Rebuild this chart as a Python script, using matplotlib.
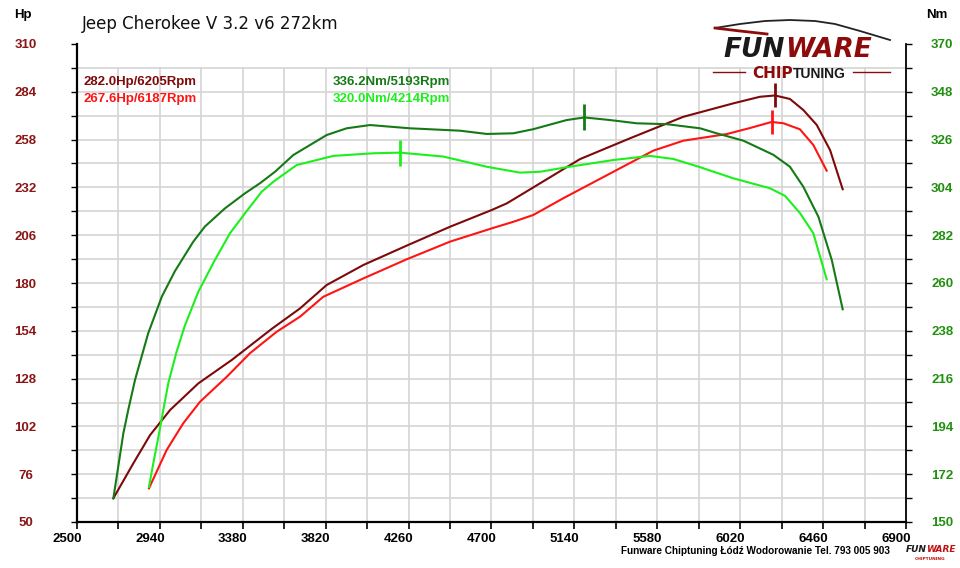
import matplotlib
matplotlib.use("Agg")
import matplotlib.pyplot as plt
from matplotlib.transforms import ScaledTranslation
import numpy as np

# ---------------- data ----------------
title = "Jeep Cherokee V 3.2 v6 272km"

hp_tuned_rpm = [2693, 2799, 2888, 2994, 3144, 3321, 3533, 3684, 3825, 4020, 4258,
                4480, 4701, 4781, 4922, 5170, 5435, 5718, 5983, 6125, 6205, 6284, 6355,
                6426, 6497, 6564]
hp_tuned = [62.9, 81.9, 97.3, 110.9, 125.4, 138.1, 155.0, 166.2, 178.9, 189.8, 200.7,
            210.6, 219.7, 223.3, 232.0, 247.4, 258.7, 270.4, 277.7, 281.3, 282.0, 280.1, 274.1,
            266.0, 252.3, 231.0]

hp_stock_rpm = [2882, 2976, 3064, 3153, 3295, 3418, 3560, 3684, 3807, 4020, 4250, 4480,
                4701, 4816, 4922, 5081, 5382, 5559, 5718, 5948, 6072, 6187, 6249, 6337,
                6408, 6479]
hp_stock = [68.3, 89.2, 103.7, 115.4, 129.0, 141.8, 153.5, 161.7, 172.5, 182.5, 192.9, 202.5,
            209.7, 213.3, 217.0, 226.1, 242.4, 252.0, 257.4, 261.0, 264.3, 267.6, 266.9, 263.6,
            255.1, 241.1]

nm_tuned_rpm = [2693, 2746, 2772, 2808, 2878, 2950, 3020, 3117, 3179, 3286, 3392, 3471,
                3551, 3648, 3825, 3931, 4055, 4267, 4533, 4675, 4816, 4922, 5099, 5193,
                5329, 5471, 5630, 5807, 5895, 6037, 6196, 6284, 6355, 6435, 6506, 6564]
nm_tuned = [160.9, 190.8, 201.6, 215.4, 236.9, 253.7, 265.5, 279.0, 286.0, 294.4, 301.3, 305.9,
            311.2, 318.9, 328.1, 331.2, 332.7, 331.2, 330.1, 328.6, 328.9, 330.8, 335.0, 336.2,
            335.0, 333.5, 333.1, 331.2, 328.9, 325.5, 319.0, 313.5, 304.3, 290.5, 270.6, 247.9]

nm_stock_rpm = [2882, 2905, 2935, 2958, 2985, 3029, 3073, 3144, 3232, 3312, 3392, 3480,
                3542, 3666, 3860, 4073, 4214, 4444, 4675, 4851, 4958, 5099, 5347, 5541,
                5665, 5807, 5983, 6178, 6258, 6338, 6408, 6479]
nm_stock = [166.2, 177.0, 190.5, 201.6, 214.0, 228.5, 240.5, 256.0, 270.6, 282.9, 292.1, 302.0,
            306.6, 314.3, 318.5, 319.7, 320.0, 318.2, 313.5, 310.8, 311.2, 313.3, 316.6, 318.5,
            317.1, 313.3, 308.2, 303.6, 300.1, 292.1, 282.9, 261.7]

peak_hp_tuned = (6205, 282.0)
peak_hp_stock = (6187, 267.6)
peak_nm_tuned = (5193, 336.2)
peak_nm_stock = (4214, 320.0)

x_ticks = [2500, 2940, 3380, 3820, 4260, 4700, 5140, 5580, 6020, 6460, 6900]
hp_ticks = [50, 76, 102, 128, 154, 180, 206, 232, 258, 284, 310]
nm_ticks = [150, 172, 194, 216, 238, 260, 282, 304, 326, 348, 370]

# ---------------- style ----------------
C_HP_T = "#7d0a0a"
C_HP_S = "#ff1414"
C_NM_T = "#157a15"
C_NM_S = "#1cf01c"
C_LBL_L = "#8b1515"
C_LBL_R = "#21900f"
GRID = "#d4d4d4"

fig = plt.figure(figsize=(9.6, 5.68), dpi=100)
fig.patch.set_facecolor("white")
L, R, B, T = 77 / 960, 906 / 960, 1 - 522 / 568, 1 - 44 / 568
ax = fig.add_axes([L, B, R - L, T - B])
ax2 = ax.twinx()

ax.set_xlim(2500, 6900)
ax.set_ylim(50, 310)
ax2.set_ylim(150, 370)

# grid (drawn manually: stops at 297 Hp)
for xv in np.arange(2720, 6900, 220):
    ax.plot([xv, xv], [50, 297], color=GRID, lw=1.2, zorder=0.5)
for yv in np.arange(63, 300, 13):
    ax.plot([2500, 6900], [yv, yv], color=GRID, lw=1.2, zorder=0.5)

# curves
ax.plot(hp_tuned_rpm, hp_tuned, color=C_HP_T, lw=1.5, zorder=3)
ax.plot(hp_stock_rpm, hp_stock, color=C_HP_S, lw=1.5, zorder=3)
ax2.plot(nm_tuned_rpm, nm_tuned, color=C_NM_T, lw=1.5, zorder=3)
ax2.plot(nm_stock_rpm, nm_stock, color=C_NM_S, lw=1.5, zorder=3)

# peak markers
ax.plot([peak_hp_tuned[0]], [peak_hp_tuned[1]], marker="|", ms=17, mew=2, color=C_HP_T)
ax.plot([peak_hp_stock[0]], [peak_hp_stock[1]], marker="|", ms=17, mew=2, color=C_HP_S)
ax2.plot([peak_nm_tuned[0]], [peak_nm_tuned[1]], marker="|", ms=19, mew=2, color=C_NM_T)
ax2.plot([peak_nm_stock[0]], [peak_nm_stock[1]], marker="|", ms=19, mew=2, color=C_NM_S)

# spines
for a in (ax, ax2):
    a.spines["top"].set_visible(False)
ax.spines["left"].set_linewidth(1.6)
ax.spines["bottom"].set_linewidth(1.6)
ax2.spines["right"].set_linewidth(1.3)
ax2.spines["left"].set_visible(False)
ax2.spines["bottom"].set_visible(False)
ax.spines["right"].set_visible(False)

# ticks
tfont = dict(family="Liberation Sans", weight="bold", size=9.5)
ax.set_xticks(x_ticks)
ax.set_xticks(np.arange(2720, 6900, 440), minor=True)
ax.set_xticklabels([str(v) for v in x_ticks], fontdict=tfont)
ax.tick_params(axis="x", which="both", direction="out", length=5, width=1.2, pad=3)
off = ScaledTranslation(-10 / 100, 0, fig.dpi_scale_trans)
for lbl in ax.get_xticklabels():
    lbl.set_transform(lbl.get_transform() + off)

ax.set_yticks(hp_ticks)
ax.set_yticks(np.arange(63, 310, 26), minor=True)
ax.set_yticklabels([str(v) for v in hp_ticks], fontdict=tfont, color=C_LBL_L)
ax.tick_params(axis="y", which="both", direction="out", length=4, width=1.0, pad=33)
for lbl in ax.get_yticklabels():
    lbl.set_horizontalalignment("center")

ax2.set_yticks(nm_ticks)
ax2.set_yticks(np.arange(161, 370, 22), minor=True)
ax2.set_yticklabels([str(v) for v in nm_ticks], fontdict=tfont, color=C_LBL_R)
ax2.tick_params(axis="y", which="both", direction="out", length=4, width=1.0, pad=22)
for lbl in ax2.get_yticklabels():
    lbl.set_horizontalalignment("center")

# axis unit labels
fig.text(23 / 960, 1 - 15 / 568, "Hp", ha="center", va="center",
         family="Liberation Sans", weight="bold", size=9.5, color="black")
fig.text(937 / 960, 1 - 15 / 568, "Nm", ha="center", va="center",
         family="Liberation Sans", weight="bold", size=9.5, color="black")

# title
fig.text(82 / 960, 1 - 24 / 568, title, ha="left", va="center",
         family="DejaVu Sans", size=12, color="#111111")

# peak annotations
afont = dict(family="Liberation Sans", weight="bold", size=9.5)
fig.text(84 / 960, 1 - 82 / 568, f"{peak_hp_tuned[1]:.1f}Hp/{peak_hp_tuned[0]}Rpm",
         ha="left", va="center", color=C_HP_T, **afont)
fig.text(84 / 960, 1 - 99 / 568, f"{peak_hp_stock[1]:.1f}Hp/{peak_hp_stock[0]}Rpm",
         ha="left", va="center", color=C_HP_S, **afont)
fig.text(333 / 960, 1 - 82 / 568, f"{peak_nm_tuned[1]:.1f}Nm/{peak_nm_tuned[0]}Rpm",
         ha="left", va="center", color=C_NM_T, **afont)
fig.text(333 / 960, 1 - 99 / 568, f"{peak_nm_stock[1]:.1f}Nm/{peak_nm_stock[0]}Rpm",
         ha="left", va="center", color=C_NM_S, **afont)

# logo (top right)
LOGO_RED = "#8e0b0b"
def fx(px):
    return px / 960
def fy(py):
    return 1 - py / 568

car_x = [715, 740, 765, 790, 815, 835, 860, 890]
car_y = [28, 24, 21, 20, 21, 24, 31, 40]
fig.add_artist(plt.Line2D([fx(v) for v in car_x], [fy(v) for v in car_y],
                          color="#222222", lw=1.3, transform=fig.transFigure))
sw_x = [715, 740, 767]
sw_y = [28, 31, 34]
fig.add_artist(plt.Line2D([fx(v) for v in sw_x], [fy(v) for v in sw_y],
                          color=LOGO_RED, lw=2.0, transform=fig.transFigure))
fig.text(fx(785), fy(57), "FUN", ha="right", va="baseline", family="DejaVu Sans",
         weight="bold", style="italic", size=19, color="#1a1a1a")
fig.text(fx(785), fy(57), "WARE", ha="left", va="baseline", family="DejaVu Sans",
         weight="bold", style="italic", size=19, color=LOGO_RED)
fig.text(fx(793), fy(78), "CHIP", ha="right", va="baseline", family="DejaVu Sans",
         weight="bold", size=11, color=LOGO_RED)
fig.text(fx(793), fy(78), "TUNING", ha="left", va="baseline", family="Liberation Sans",
         weight="bold", size=10, color="#1a1a1a")
fig.add_artist(plt.Line2D([fx(713), fx(745)], [fy(72), fy(72)], color=LOGO_RED, lw=1.0,
                          transform=fig.transFigure))
fig.add_artist(plt.Line2D([fx(853), fx(890)], [fy(72), fy(72)], color=LOGO_RED, lw=1.0,
                          transform=fig.transFigure))

# footer
fig.text(fx(890), fy(551), "Funware Chiptuning Łódź Wodorowanie Tel. 793 005 903",
         ha="right", va="center", family="Liberation Sans", weight="bold", size=7.2,
         color="black")
fig.text(fx(906), fy(550), "FUN", ha="left", va="center", family="DejaVu Sans",
         weight="bold", style="italic", size=6.5, color="#1a1a1a")
fig.text(fx(926), fy(550), "WARE", ha="left", va="center", family="DejaVu Sans",
         weight="bold", style="italic", size=6.5, color="#c01010")
fig.text(fx(930), fy(559), "CHIPTUNING", ha="center", va="center", family="DejaVu Sans",
         weight="bold", size=3.2, color="#c01010")

fig.savefig("out.png", dpi=100, facecolor="white")
